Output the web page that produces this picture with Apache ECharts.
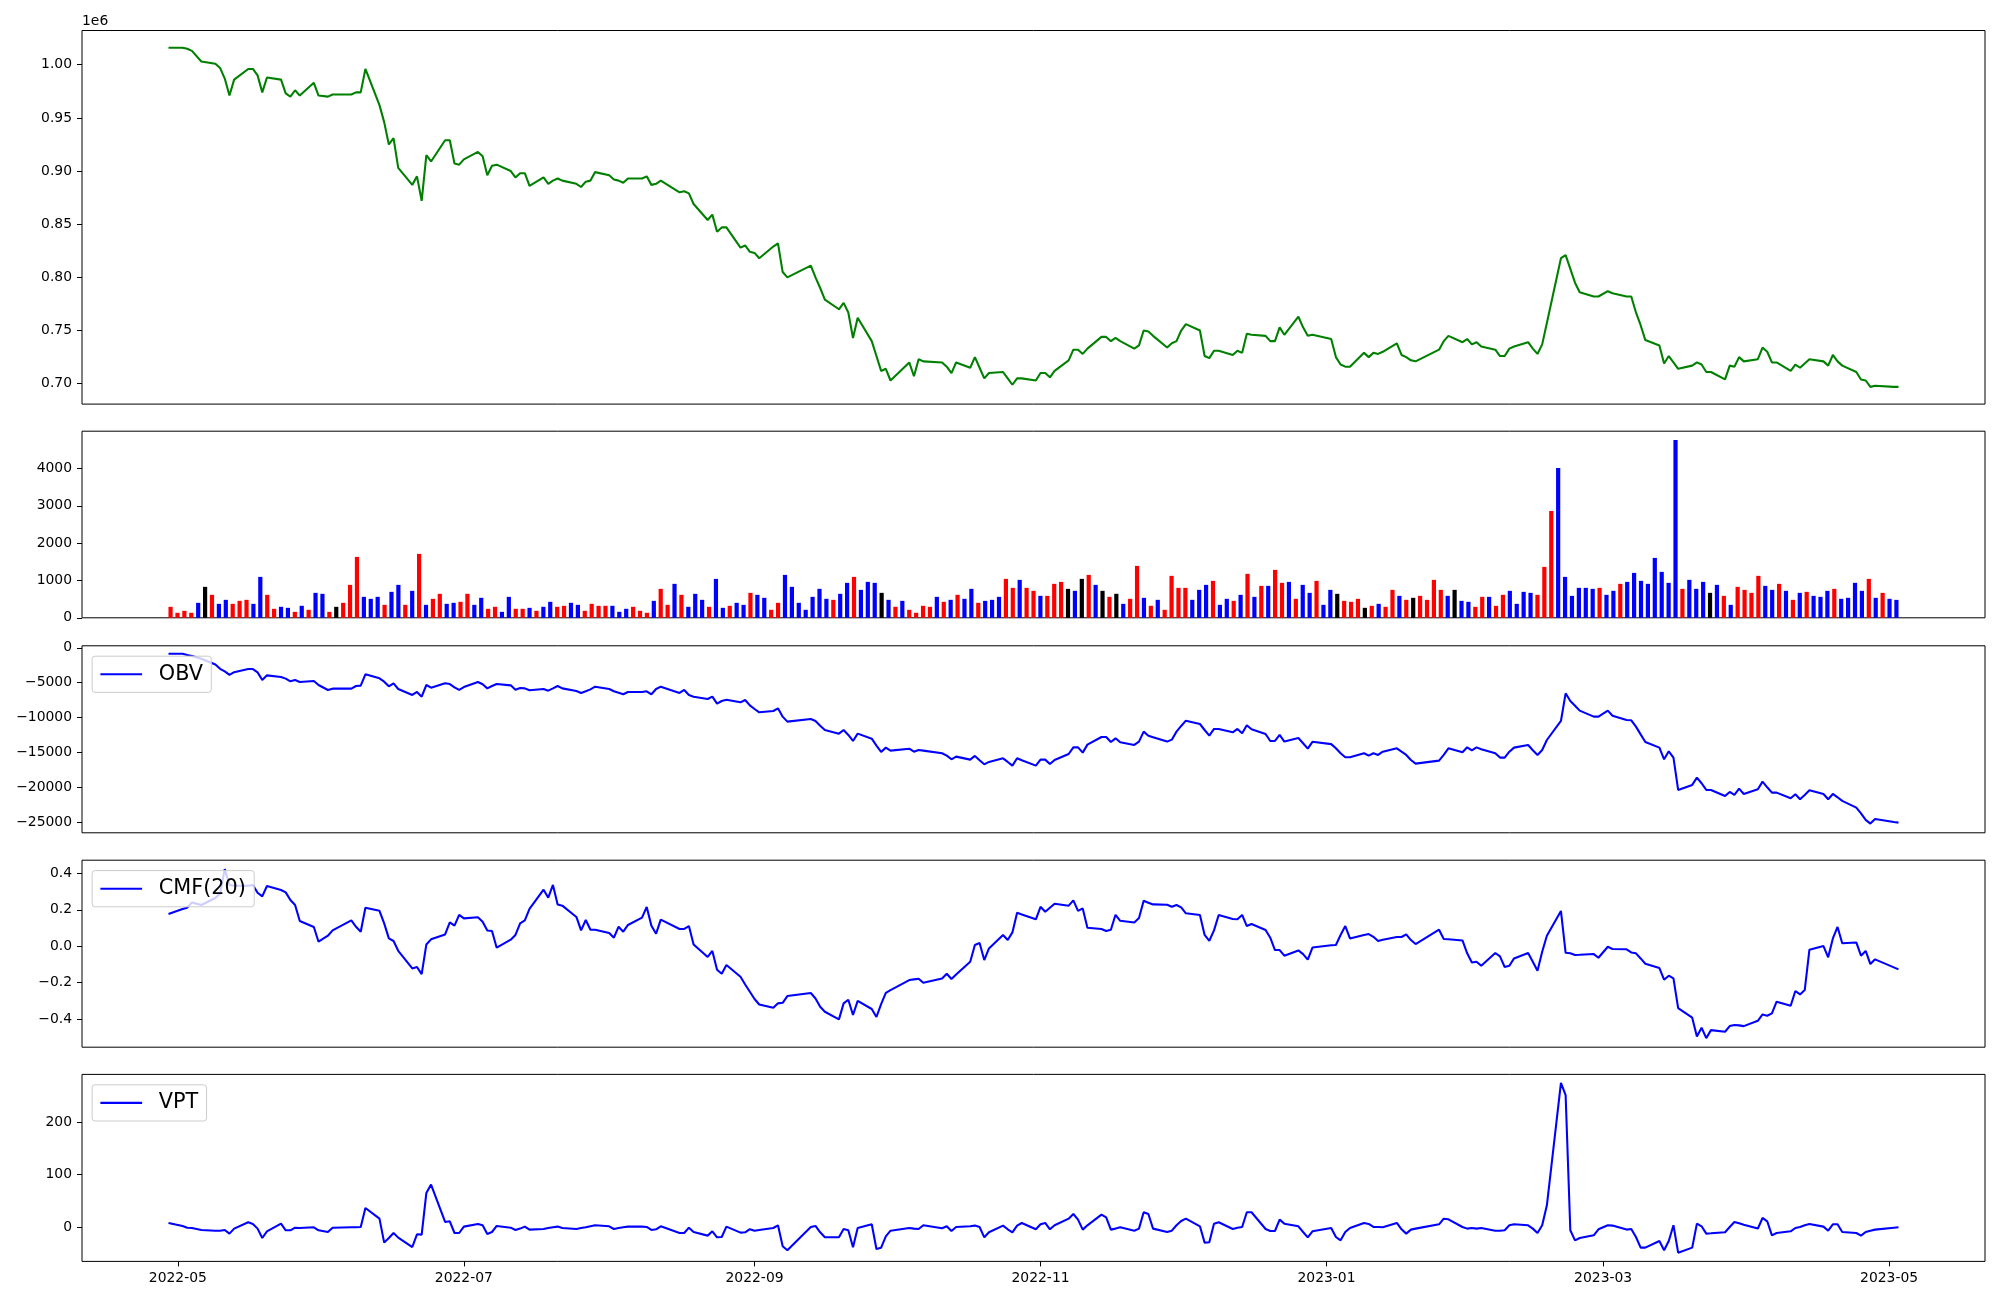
<!DOCTYPE html>
<html>
<head>
<meta charset="utf-8">
<script src="https://cdn.jsdelivr.net/npm/echarts@6/dist/echarts.min.js"></script>
<style>
  html, body { margin: 0; padding: 0; background: #fff; }
  #c { width: 2000px; height: 1300px; }
</style>
</head>
<body>
<div id="c"></div>
<script>
// ---- trading days (KRX calendar) ----
const monthDays = [
  ['2022-04', [29]],
  ['2022-05', [2,3,4,6,9,10,11,12,13,16,17,18,19,20,23,24,25,26,27,30,31]],
  ['2022-06', [2,3,7,8,9,10,13,14,15,16,17,20,21,22,23,24,27,28,29,30]],
  ['2022-07', [1,4,5,6,7,8,11,12,13,14,15,18,19,20,21,22,25,26,27,28,29]],
  ['2022-08', [1,2,3,4,5,8,9,10,11,12,16,17,18,19,22,23,24,25,26,29,30,31]],
  ['2022-09', [1,2,5,6,7,8,13,14,15,16,19,20,21,22,23,26,27,28,29,30]],
  ['2022-10', [4,5,6,7,11,12,13,14,17,18,19,20,21,24,25,26,27,28,31]],
  ['2022-11', [1,2,3,4,7,8,9,10,11,14,15,16,17,18,21,22,23,24,25,28,29,30]],
  ['2022-12', [1,2,5,6,7,8,9,12,13,14,15,16,19,20,21,22,23,26,27,28,29]],
  ['2023-01', [2,3,4,5,6,9,10,11,12,13,16,17,18,19,20,25,26,27,30,31]],
  ['2023-02', [1,2,3,6,7,8,9,10,13,14,15,16,17,20,21,22,23,24,27,28]],
  ['2023-03', [2,3,6,7,8,9,10,13,14,15,16,17,20,21,22,23,24,27,28,29,30,31]],
  ['2023-04', [3,4,5,6,7,10,11,12,13,14,17,18,19,20,21,24,25,26,27,28]],
  ['2023-05', [2,3]]
];

// ---- close price (thousands) ----
const closeK = [
  1016,
  1016,1015,1013,1003,1001,997,987,971,986,996,996,990,974,988,986,973,970,976,971,983,971,
  970,972,972,974,974,996,962,946,925,931,903,887,895,872,915,909,929,929,907,906,
  911,918,914,896,905,906,900,894,898,898,886,894,888,891,893,891,888,885,890,891,899,
  896,892,891,889,893,893,895,887,888,891,880,881,879,869,854,859,843,847,847,828,830,824,
  823,818,829,832,805,800,811,800,790,779,770,776,767,743,762,740,726,712,714,703,
  720,707,723,721,720,716,710,720,715,725,715,705,710,711,705,699,705,705,703,
  710,710,706,712,722,732,732,728,733,744,744,740,743,740,733,736,750,749,745,734,738,740,
  750,756,750,726,724,731,731,727,731,729,747,746,745,740,740,753,746,763,753,745,746,
  742,725,718,716,716,729,725,729,728,730,738,727,725,722,721,732,740,745,739,742,
  737,739,735,732,726,726,733,735,739,733,728,737,757,818,821,808,795,786,782,782,
  787,785,782,782,767,755,741,736,719,726,720,714,717,720,718,711,711,704,717,716,725,721,
  723,734,730,720,720,712,718,715,719,723,721,717,727,721,717,711,704,703,697,698,
  697,697
];

// ---- volume ----
const volume = [
  294,134,187,134,401,829,615,374,481,374, 454,481,374,1096,615,241,294,267,160,321,
  214,668,642,160,294,401,882,1631,561,508, 561,347,695,882,347,722,1711,347,508,642,
  374,401,428,642,347,535,241,294,160,561, 241,241,267,187,294,428,294,321,401,347,
  187,374,321,321,321,160,241,294,187,134, 454,775,347,909,615,294,642,481,294,1042,
  267,321,401,347,
  668,615,535,214,401,1149,829,401,214,561, 775,508,481,642,936,1096,748,962,936,668,
  481,294,454,214,134,321,294,561,428,481, 615,508,775,401,454,481,561,1042,802,1016,
  802,722,588,588,909,962,775,722,1042,1149, 882,722,561,642,374,508,1390,535,321,481,
  214,1123,802,802,481,748,882,989,347,508, 454,615,1176,561,855,855,1283,936,962,508,
  882,668,989,347,
  748,642,454,428,508,267,321,374,294,748, 588,481,535,588,481,1016,748,588,748,454,
  428,294,561,561,321,615,722,374,695,668, 615,1363,2860,4010,1096,588,802,802,775,802,
  615,722,909,962,1203,989,909,1604,1230,936, 4758,775,1016,775,962,668,882,588,347,829,
  748,668,1123,855,748,909,722,481,668,695, 588,561,722,775,508,535,936,722,1042,535,
  668,508,480
];
// r = red, b = blue, k = black
const volumeColorCodes =
  'rrrrbkrbbr' + 'rrbbrrbbrb' + 'rbbrkrrrbb' + 'brbbrbrbrr' + 'bbrrbbrrbb' +
  'rrbrbbrrbb' + 'rrrrbbbrrr' + 'brrbrbbbrb' + 'brbb' +
  'rbbrrbbbbb' + 'bbrbbrbbbk' + 'brbrrrrbrb' + 'rbbrbbbrrb' + 'rrbrrrkbkr' +
  'bkrkbrrbrb' + 'rrrrbbbrbb' + 'rbrbrbrrbr' + 'bbrb' +
  'bkrrrkrbrr' + 'brkrrrrbkb' + 'brrbrrbbbb' + 'rrrbbbbbbr' + 'bbrbbbbbbb' +
  'brbbbkbrbr' + 'rrrbbrbrbr' + 'bbbrbbbbrb' + 'rbb';

// ---- OBV ----
const obv = [
  -850,
  -850,-1040,-1170,-1570,-2400,-3020,-3390,-3880,-3500,-3050,-3050,-3520,-4610,-3950,-4180,-4420,-4800,-4610,-4900,-4760,-5330,
  -6040,-5850,-5850,-5470,-5420,-3800,-4380,-4850,-5520,-5090,-5900,-6760,-6330,-7000,-5330,-5710,-5090,-5190,-5660,-6040,
  -5620,-4900,-5230,-5810,-5470,-5190,-5380,-6000,-5760,-5810,-6090,-5900,-6140,-5810,-5470,-5810,-6190,-6470,-6230,-5950,-5570,
  -5900,-6230,-6430,-6660,-6330,-6330,-6230,-6660,-5900,-5570,-6470,-6040,-6760,-7000,-7330,-7000,-8000,-7620,-7430,-7810,-7470,-8250,
  -8760,-9240,-9050,-8670,-9860,-10570,-10190,-10480,-11150,-11770,-12290,-11770,-12480,-13340,-12290,-13010,-14010,-14910,-14290,-14720,
  -14440,-14870,-14630,-14720,-15100,-15440,-15960,-15580,-16010,-15480,-16100,-16680,-16340,-15820,-16340,-16870,-15820,-16100,-16870,
  -16010,-16010,-16630,-16060,-15200,-14250,-14250,-15010,-13860,-12770,-12770,-13480,-12960,-13530,-13910,-13430,-12000,-12580,-12820,-13430,-13150,-12000,
  -11190,-10430,-10910,-11770,-12580,-11620,-11620,-12100,-11620,-12240,-11100,-11670,-12340,-13340,-13340,-12480,-13430,-12910,-13670,-14440,-13460,
  -13790,-14390,-15100,-15680,-15680,-15100,-15440,-15100,-15340,-14870,-14390,-14870,-15340,-16060,-16580,-16150,-15340,-14390,-14960,-14250,
  -14670,-14250,-14530,-15100,-15720,-15720,-14870,-14290,-13910,-14670,-15340,-14630,-13200,-10480,-6520,-7620,-8290,-9000,-9860,-9860,
  -9000,-9720,-10340,-10380,-11290,-12390,-13480,-14290,-15960,-14820,-15720,-20350,-19630,-18580,-19390,-20350,-20350,-21210,-20630,-21060,-20160,-20920,
  -20250,-19160,-19970,-20730,-20730,-21540,-20970,-21680,-21060,-20400,-20920,-21680,-20920,-21400,-21920,-22880,-23690,-24640,-25160,-24500,
  -24930,-25020
];

// ---- CMF(20) ----
const cmf = [
  0.177,
  0.205,0.212,0.241,0.227,0.265,0.290,0.424,0.337,0.333,0.333,0.337,0.294,0.274,0.331,0.309,0.296,0.254,0.227,0.139,0.106,0.025,
  0.058,0.087,0.142,0.107,0.080,0.212,0.195,0.126,0.043,0.029,-0.025,-0.122,-0.114,-0.153,0.010,0.038,0.065,0.131,0.113,0.172,
  0.153,0.159,0.135,0.087,0.084,-0.008,0.036,0.062,0.126,0.142,0.205,0.311,0.267,0.337,0.230,0.223,0.161,0.087,0.144,0.091,0.091,
  0.073,0.047,0.107,0.080,0.117,0.157,0.216,0.113,0.069,0.146,0.095,0.095,0.111,0.010,-0.059,-0.026,-0.129,-0.151,-0.103,-0.168,-0.210,-0.250,
  -0.290,-0.320,-0.338,-0.314,-0.311,-0.274,-0.257,-0.287,-0.333,-0.360,-0.402,-0.314,-0.294,-0.378,-0.300,-0.345,-0.389,-0.318,-0.256,-0.241,
  -0.186,-0.182,-0.179,-0.201,-0.177,-0.151,-0.180,-0.155,-0.085,0.007,0.018,-0.076,-0.012,0.062,0.034,0.076,0.184,0.175,0.148,
  0.217,0.190,0.212,0.234,0.223,0.252,0.194,0.208,0.102,0.095,0.084,0.091,0.173,0.140,0.131,0.155,0.250,0.239,0.230,0.228,0.217,0.227,
  0.214,0.181,0.172,0.062,0.030,0.087,0.172,0.150,0.148,0.172,0.111,0.122,0.089,0.047,-0.021,-0.021,-0.052,-0.023,-0.043,-0.074,-0.007,
  0.005,0.007,0.062,0.111,0.043,0.062,0.067,0.052,0.029,0.036,0.051,0.051,0.065,0.034,0.012,0.091,0.040,0.038,0.032,-0.039,
  -0.089,-0.085,-0.107,-0.037,-0.056,-0.114,-0.107,-0.067,-0.037,-0.085,-0.135,-0.030,0.058,0.194,-0.036,-0.039,-0.048,-0.047,-0.043,-0.063,
  -0.003,-0.015,-0.017,-0.034,-0.039,-0.067,-0.096,-0.120,-0.184,-0.162,-0.177,-0.340,-0.393,-0.496,-0.448,-0.505,-0.461,-0.470,-0.439,-0.433,-0.435,-0.439,
  -0.410,-0.375,-0.382,-0.369,-0.305,-0.327,-0.246,-0.265,-0.241,-0.019,0.001,-0.061,0.043,0.106,0.016,0.021,-0.052,-0.026,-0.098,-0.072,
  -0.116,-0.127
];

// ---- VPT ----
const vpt = [
  8.4,
  2.8,-0.5,-1.1,-4.9,-6.2,-6.2,-4.9,-11.8,-2.3,9.7,6.5,-2.3,-20.1,-7.4,7.1,-5.5,-5.5,-0.5,-1.1,0.2,-5.5,
  -8.7,-0.5,0.2,0.2,0.8,36.9,16.6,-28.9,-20.0,-10.6,-19.4,-37.2,-13.1,-13.7,65.4,81.2,10.3,11.6,-10.6,-10.6,
  1.5,6.5,4.0,-12.5,-8.7,2.8,-0.5,-4.9,-2.3,1.5,-4.2,-3.0,-1.1,0.2,1.5,-1.1,-3.0,-1.1,0.2,2.1,4.0,
  2.1,-3.0,-1.1,0.2,1.5,1.5,0.8,-4.9,-3.6,2.1,-10.6,-10.6,-0.5,-8.7,-15.6,-7.4,-18.8,-18.2,1.5,-9.9,-9.3,-3.3,
  -6.2,-4.9,-1.1,4.0,-35.9,-43.5,0.8,2.8,-9.3,-18.8,-18.8,-3.0,-5.5,-37.8,-1.1,5.9,-41.0,-38.4,-16.9,-6.2,
  -1.1,-2.3,-3.0,4.0,-1.7,2.1,-6.8,0.8,2.1,3.4,0.8,-18.8,-9.3,3.4,-3.6,-9.3,3.4,8.4,-3.6,
  5.9,8.4,-3.6,4.0,16.6,25.5,14.7,-4.2,4.0,24.2,19.2,-4.2,-2.3,0.2,-6.2,-2.3,28.7,25.5,-2.3,-8.7,-6.2,4.0,
  12.2,16.6,2.1,-28.9,-28.3,7.1,9.7,-3.0,-0.5,0.8,28.7,28.7,-3.0,-6.8,-6.8,14.7,7.1,2.1,-8.7,-18.8,-7.4,
  -1.1,-18.2,-24.5,-8.7,-1.1,8.4,6.5,0.8,0.8,0.2,8.4,-3.6,-11.8,-4.2,-2.3,5.9,16.6,15.4,0.8,-2.3,
  -1.1,-2.3,-1.1,-6.2,-6.2,-5.5,4.0,5.9,4.0,-2.3,-10.6,4.0,42.0,274.2,250.8,-5.5,-24.5,-20.1,-15.0,-3.6,
  4.0,3.4,-4.2,-3.0,-18.2,-38.4,-38.4,-25.8,-43.5,-25.8,4.0,-47.9,-38.4,7.1,2.1,-11.8,-11.2,-9.3,0.8,10.3,7.8,5.2,
  -2.3,17.9,11.6,-15.0,-10.6,-7.4,-1.1,0.8,4.0,6.5,1.5,-6.2,5.9,5.9,-8.7,-10.6,-15.6,-8.7,-6.2,-4.2,
  -0.5,0.2
];

// ---- tick labels ----
const xTickLabels = ['2022-05','2022-07','2022-09','2022-11','2023-01','2023-03','2023-05'];
const priceTicks = [700000, 750000, 800000, 850000, 900000, 950000, 1000000];
const volumeTicks = [0, 1000, 2000, 3000, 4000];
const obvTicks = [-25000, -20000, -15000, -10000, -5000, 0];
const cmfTicks = [-0.4, -0.2, 0.0, 0.2, 0.4];
const vptTicks = [0, 100, 200];

// ---- build ----
const dates = [];
monthDays.forEach(([ym, days]) => {
  const [y, m] = ym.split('-').map(Number);
  days.forEach(d => dates.push(Date.UTC(y, m - 1, d)));
});
const close = closeK.map(v => v * 1000);
const xTickValues = xTickLabels.map(s => { const [y, m] = s.split('-').map(Number); return Date.UTC(y, m - 1, 1); });

const t0 = dates[0], t1 = dates[dates.length - 1];
const span = t1 - t0;
const tMin = t0 - 0.05 * span, tMax = t1 + 0.05 * span;
const nBars = volume.length;
const barHalf = 0.3;
const barSpan = (nBars - 1) + 2 * barHalf;
const iMin = -barHalf - 0.05 * barSpan, iMax = (nBars - 1) + barHalf + 0.05 * barSpan;

const colorMap = { r: '#ff0000', b: '#0000ff', k: '#000000' };
const FONT = 'DejaVu Sans';
const minus = s => String(s).replace('-', '\u2212');

const grids = [
  { left: 82, top: 30.5, width: 1903, height: 373.6 },
  { left: 82, top: 431.2, width: 1903, height: 186.6 },
  { left: 82, top: 645.8, width: 1903, height: 187.0 },
  { left: 82, top: 860.2, width: 1903, height: 187.0 },
  { left: 82, top: 1074.4, width: 1903, height: 187.0 }
].map(g => Object.assign({ show: true, borderColor: '#000', borderWidth: 1, backgroundColor: 'transparent', containLabel: false }, g));

function yAxis(idx, min, max, ticks, fmt) {
  return {
    type: 'value', gridIndex: idx, min: min, max: max, scale: true, position: 'left',
    axisLine: { show: false, onZero: false },
    splitLine: { show: false },
    axisTick: { show: true, inside: false, length: 5, lineStyle: { color: '#000', width: 1 }, customValues: ticks },
    axisLabel: { show: true, color: '#000', fontSize: 13.9, fontFamily: FONT, margin: 10, customValues: ticks, formatter: fmt }
  };
}
function xTime(idx, showLabels) {
  return {
    type: 'value', gridIndex: idx, min: tMin, max: tMax, position: 'bottom',
    axisLine: { show: false, onZero: false }, splitLine: { show: false },
    axisTick: { show: showLabels, length: 5, lineStyle: { color: '#000', width: 1 }, customValues: xTickValues },
    axisLabel: {
      show: showLabels, color: '#000', fontSize: 13.9, fontFamily: FONT, margin: 10, customValues: xTickValues,
      formatter: v => { const d = new Date(v); return d.getUTCFullYear() + '-' + String(d.getUTCMonth() + 1).padStart(2, '0'); }
    }
  };
}

const legendBase = {
  orient: 'horizontal', left: 92.1, selectedMode: false, icon: 'rect',
  itemWidth: 41.7, itemHeight: 2.08, itemGap: 0,
  padding: [7.6, 8.3, 7.6, 8.3],
  borderColor: '#cccccc', borderWidth: 1, borderRadius: 3,
  backgroundColor: 'rgba(255,255,255,0.8)',
  textStyle: { fontSize: 20.8, fontFamily: FONT, color: '#000', padding: [0, 0, 0, 11.7] },
  z: 10
};

const option = {
  animation: false,
  backgroundColor: '#ffffff',
  textStyle: { fontFamily: FONT },
  grid: grids,
  xAxis: [
    xTime(0, false),
    { type: 'value', gridIndex: 1, min: iMin, max: iMax, show: false, axisLine: { onZero: false } },
    xTime(2, false),
    xTime(3, false),
    xTime(4, true)
  ],
  yAxis: [
    yAxis(0, 680800, 1032200, priceTicks, v => (v / 1e6).toFixed(2)),
    yAxis(1, 0, 4996, volumeTicks, v => String(v)),
    yAxis(2, -26480, 280, obvTicks, v => minus(v)),
    yAxis(3, -0.555, 0.473, cmfTicks, v => minus(v.toFixed(1))),
    yAxis(4, -64.5, 290.3, vptTicks, v => minus(v))
  ],
  legend: [
    Object.assign({}, legendBase, { data: ['OBV'], top: 656.2 }),
    Object.assign({}, legendBase, { data: ['CMF(20)'], top: 870.6 }),
    Object.assign({}, legendBase, { data: ['VPT'], top: 1084.8 })
  ],
  graphic: [
    { type: 'text', left: 82, top: 14.5, style: { text: '1e6', fontSize: 13.9, fontFamily: FONT, fill: '#000' } }
  ],
  series: [
    {
      name: 'Close', type: 'line', xAxisIndex: 0, yAxisIndex: 0,
      data: dates.map((t, i) => [t, close[i]]),
      showSymbol: false, symbol: 'none', color: '#008000',
      lineStyle: { color: '#008000', width: 2.08 }, itemStyle: { color: '#008000' }
    },
    {
      name: 'Volume', type: 'bar', xAxisIndex: 1, yAxisIndex: 1, barWidth: 4.2,
      data: volume.map((v, i) => ({ value: [i, v], itemStyle: { color: colorMap[volumeColorCodes[i]] } }))
    },
    {
      name: 'OBV', type: 'line', xAxisIndex: 2, yAxisIndex: 2,
      data: dates.map((t, i) => [t, obv[i]]),
      showSymbol: false, symbol: 'none', color: '#0000ff',
      lineStyle: { color: '#0000ff', width: 2.08 }, itemStyle: { color: '#0000ff' }
    },
    {
      name: 'CMF(20)', type: 'line', xAxisIndex: 3, yAxisIndex: 3,
      data: dates.map((t, i) => [t, cmf[i]]),
      showSymbol: false, symbol: 'none', color: '#0000ff',
      lineStyle: { color: '#0000ff', width: 2.08 }, itemStyle: { color: '#0000ff' }
    },
    {
      name: 'VPT', type: 'line', xAxisIndex: 4, yAxisIndex: 4,
      data: dates.map((t, i) => [t, vpt[i]]),
      showSymbol: false, symbol: 'none', color: '#0000ff',
      lineStyle: { color: '#0000ff', width: 2.08 }, itemStyle: { color: '#0000ff' }
    }
  ]
};

const chart = echarts.init(document.getElementById('c'), null, { renderer: 'canvas', width: 2000, height: 1300 });
chart.setOption(option);
</script>
</body>
</html>
